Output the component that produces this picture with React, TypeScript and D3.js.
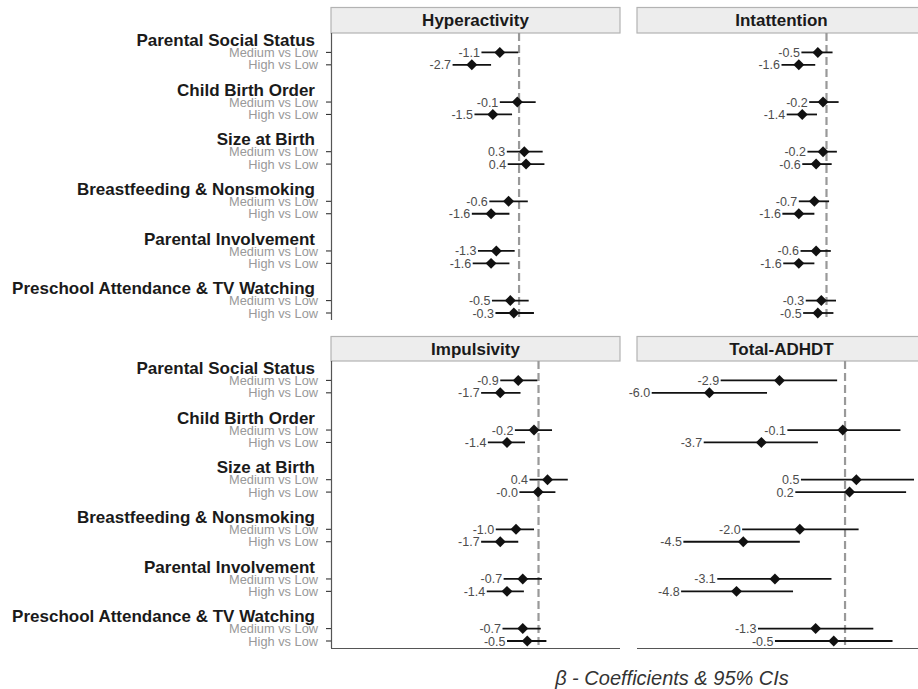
import React from 'react';
import * as d3 from 'd3';

// rows of the forest plot
const groups = [
  'Parental Social Status',
  'Child Birth Order',
  'Size at Birth',
  'Breastfeeding & Nonsmoking',
  'Parental Involvement',
  'Preschool Attendance & TV Watching',
];
const contrasts = ['Medium vs Low', 'High vs Low'];
const outcomes = ['Hyperactivity', 'Intattention', 'Impulsivity', 'Total-ADHDT'];

// estimates and 95% CIs, ordered group by group, Medium then High
const hyperEst = [-1.1, -2.7, -0.1, -1.5, 0.3, 0.4, -0.6, -1.6, -1.3, -1.6, -0.5, -0.3];
const hyperLo = [-2.15, -3.8, -1.1, -2.55, -0.7, -0.65, -1.7, -2.7, -2.35, -2.65, -1.55, -1.35];
const hyperHi = [-0.05, -1.6, 0.95, -0.4, 1.35, 1.45, 0.5, -0.55, -0.25, -0.55, 0.55, 0.85];

const inatEst = [-0.5, -1.6, -0.2, -1.4, -0.2, -0.6, -0.7, -1.6, -0.6, -1.6, -0.3, -0.5];
const inatLo = [-1.45, -2.6, -1.0, -2.3, -1.1, -1.4, -1.6, -2.55, -1.5, -2.5, -1.2, -1.35];
const inatHi = [0.35, -0.65, 0.7, -0.55, 0.6, 0.3, 0.15, -0.7, 0.25, -0.7, 0.55, 0.4];

const impEst = [-0.9, -1.7, -0.2, -1.4, 0.4, -0.02, -1.0, -1.7, -0.7, -1.4, -0.7, -0.5];
const impLo = [-1.7, -2.55, -1.05, -2.25, -0.4, -0.85, -1.9, -2.55, -1.55, -2.3, -1.6, -1.4];
const impHi = [-0.05, -0.8, 0.6, -0.6, 1.3, 0.75, -0.2, -0.9, 0.15, -0.65, 0.1, 0.35];

const totEst = [-2.9, -6.0, -0.1, -3.7, 0.5, 0.2, -2.0, -4.5, -3.1, -4.8, -1.3, -0.5];
const totLo = [-5.5, -8.55, -2.55, -6.25, -1.95, -2.2, -4.55, -7.15, -5.65, -7.25, -3.85, -3.1];
const totHi = [-0.35, -3.45, 2.45, -1.2, 3.05, 2.7, 0.6, -2.0, -0.6, -2.3, 1.25, 2.1];

// free x scales per facet
const xDomains: [number, number][] = [[-10.75, 5.77], [-10.95, 5.75], [-9.22, 3.62], [-9.2, 3.58]];

const estimates = [hyperEst, inatEst, impEst, totEst];
const lowers = [hyperLo, inatLo, impLo, totLo];
const uppers = [hyperHi, inatHi, impHi, totHi];

const FONT = '"Liberation Sans", Arial, Helvetica, sans-serif';
const W = 918;
const H = 689;

const colX = [[331, 620], [637, 926]];
const rowY = [
  { strip: [7.5, 33], panel: [33, 320] },
  { strip: [336.5, 361], panel: [361, 648] },
];

// y slots: header, medium, high, spacer for each group (no spacer after last)
const slotKeys: string[] = [];
groups.forEach((g, gi) => {
  slotKeys.push(`h|${g}`);
  contrasts.forEach(c => slotKeys.push(`r|${g}|${c}`));
  if (gi < groups.length - 1) slotKeys.push(`s|${g}`);
});

const diamond = d3.symbol(d3.symbolSquare, 60)();

function Panel({ idx }: { idx: number }) {
  const col = idx % 2;
  const row = Math.floor(idx / 2);
  const [x0, x1] = colX[col];
  const { strip, panel } = rowY[row];
  const x = d3.scaleLinear().domain(xDomains[idx]).range([x0, x1]);
  const y = d3.scalePoint<string>().domain(slotKeys).range([panel[0] + 7, panel[1] - 7]);
  const est = estimates[idx];
  const lo = lowers[idx];
  const hi = uppers[idx];

  const rows: { key: string; e: number; l: number; h: number }[] = [];
  groups.forEach((g, gi) =>
    contrasts.forEach((c, ci) => {
      const k = gi * 2 + ci;
      rows.push({ key: `r|${g}|${c}`, e: est[k], l: lo[k], h: hi[k] });
    })
  );

  return (
    <g>
      <rect x={x0} y={strip[0]} width={x1 - x0} height={strip[1] - strip[0]}
        fill="#ededed" stroke="#b3b3b3" strokeWidth={1.2} />
      <text x={(x0 + x1) / 2} y={(strip[0] + strip[1]) / 2} dy="0.36em" textAnchor="middle"
        fontFamily={FONT} fontWeight="bold" fontSize={17} fill="#1a1a1a">{outcomes[idx]}</text>

      <line x1={x(0)} x2={x(0)} y1={panel[0]} y2={panel[1]} stroke="#999999"
        strokeWidth={2.2} strokeDasharray="8 4" />

      {rows.map(r => {
        const yy = y(r.key)!;
        return (
          <g key={r.key}>
            <line x1={x(r.l)} x2={x(r.h)} y1={yy} y2={yy} stroke="#111" strokeWidth={1.8} />
            <path d={diamond!} transform={`translate(${x(r.e)},${yy}) rotate(45)`} fill="#111" />
            <text x={x(r.l) - 1.5} y={yy} dy="0.36em" textAnchor="end" fontFamily={FONT}
              fontSize={12.5} fill="#4d4d4d">{r.e.toFixed(1)}</text>
          </g>
        );
      })}

      {col === 0 && (
        <g>
          <line x1={x0 + 0.5} x2={x0 + 0.5} y1={panel[0]} y2={panel[1]} stroke="#555" strokeWidth={1.2} />
          {slotKeys.map(k => {
            const parts = k.split('|');
            const yy = y(k)!;
            if (parts[0] === 'h') {
              return (
                <text key={k} x={x0 - 16} y={yy} dy="0.36em" textAnchor="end" fontFamily={FONT}
                  fontWeight="bold" fontSize={17} fill="#1a1a1a">{parts[1]}</text>
              );
            }
            if (parts[0] === 'r') {
              return (
                <g key={k}>
                  <line x1={x0 - 5} x2={x0} y1={yy} y2={yy} stroke="#333" strokeWidth={1.1} />
                  <text x={x0 - 13} y={yy} dy="0.36em" textAnchor="end" fontFamily={FONT}
                    fontSize={12.8} fill="#999999">{parts[2]}</text>
                </g>
              );
            }
            return null;
          })}
        </g>
      )}
      {row === 1 && (
        <line x1={x0} x2={x1} y1={panel[1] + 0.5} y2={panel[1] + 0.5} stroke="#555" strokeWidth={1.2} />
      )}
    </g>
  );
}

export default function App() {
  return (
    <svg width={W} height={H} style={{ position: 'absolute', left: 0, top: 0, background: '#fff' }}>
      <rect width={W} height={H} fill="#fff" />
      {outcomes.map((o, i) => <Panel key={o} idx={i} />)}
      <text x={672} y={685} textAnchor="middle" fontFamily={FONT} fontStyle="italic"
        fontSize={20} fill="#333">β - Coefficients &amp; 95% CIs</text>
    </svg>
  );
}
